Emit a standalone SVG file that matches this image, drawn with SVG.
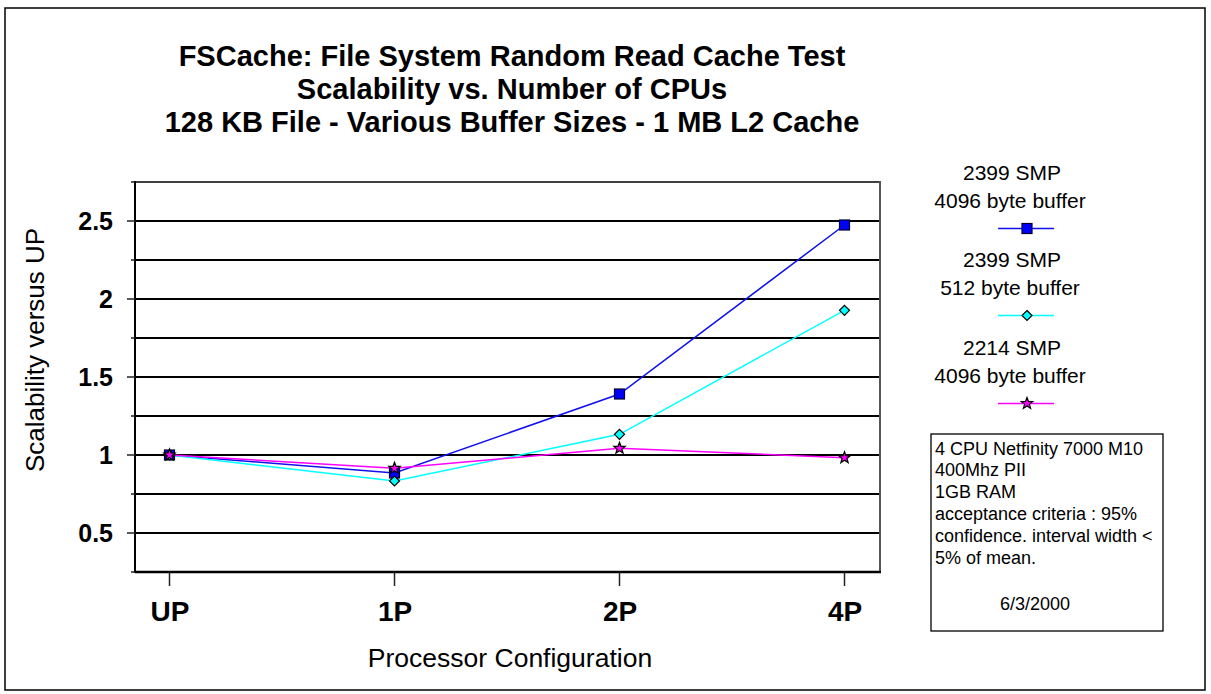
<svg xmlns="http://www.w3.org/2000/svg" width="1211" height="694" viewBox="0 0 1211 694">
<style>
text{font-family:"Liberation Sans",Arial,sans-serif;fill:#000}
.title{font-size:29px;font-weight:bold;text-anchor:middle}
.ylab{font-size:25px;font-weight:bold;text-anchor:end}
.xlab{font-size:28px;font-weight:bold;text-anchor:middle}
.axt{font-size:26px;text-anchor:middle}
.leg{font-size:21px;text-anchor:middle}
.info{font-size:18px}
.grid{stroke:#000;stroke-width:2}
.tick{stroke:#222;stroke-width:1.5}
.s1{fill:none;stroke:#1010f0;stroke-width:1.5}
.s2{fill:none;stroke:#00ffff;stroke-width:1.5}
.s3{fill:none;stroke:#ff00ff;stroke-width:1.5}
</style>
<defs>
<g id="msq"><rect x="-5" y="-5" width="10" height="10" fill="#0000ff" stroke="#000030" stroke-width="1.2"/></g>
<g id="mdi"><polygon points="0,-5 5,0 0,5 -5,0" fill="#00ffff" stroke="#000" stroke-width="1.2"/></g>
<g id="mst"><polygon points="0,-6 1.5,-2 5.7,-1.9 2.4,0.8 3.6,4.9 0,2.5 -3.6,4.9 -2.4,0.8 -5.7,-1.9 -1.5,-2" fill="#ff00ff" stroke="#000" stroke-width="1.2"/></g>
</defs>
<rect width="1211" height="694" fill="#fff"/>
<rect x="5" y="8" width="1200" height="682" fill="none" stroke="#000" stroke-width="1.5"/>
<g id="title">
<text class="title" x="512" y="66">FSCache: File System Random Read Cache Test</text>
<text class="title" x="512" y="99">Scalability vs. Number of CPUs</text>
<text class="title" x="512" y="132">128 KB File - Various Buffer Sizes - 1 MB L2 Cache</text>
</g>
<g id="plot-area">
<rect x="135" y="182" width="745" height="390" fill="#fff" stroke="none"/>
<line class="grid" x1="135" y1="221" x2="880" y2="221"/>
<line class="grid" x1="135" y1="260" x2="880" y2="260"/>
<line class="grid" x1="135" y1="299" x2="880" y2="299"/>
<line class="grid" x1="135" y1="338" x2="880" y2="338"/>
<line class="grid" x1="135" y1="377" x2="880" y2="377"/>
<line class="grid" x1="135" y1="416" x2="880" y2="416"/>
<line class="grid" x1="135" y1="455" x2="880" y2="455"/>
<line class="grid" x1="135" y1="494" x2="880" y2="494"/>
<line class="grid" x1="135" y1="533" x2="880" y2="533"/>
<line x1="135" y1="182" x2="880" y2="182" stroke="#000" stroke-width="1.5"/>
<line x1="880" y1="181" x2="880" y2="573" stroke="#555" stroke-width="2"/>
<line x1="135" y1="572" x2="881" y2="572" stroke="#000" stroke-width="2.5"/>
<line x1="135" y1="181" x2="135" y2="573" stroke="#000" stroke-width="2"/>
</g>
<g id="y-axis">
<line class="tick" x1="127" y1="221" x2="135" y2="221"/>
<line class="tick" x1="131" y1="260" x2="135" y2="260"/>
<line class="tick" x1="127" y1="299" x2="135" y2="299"/>
<line class="tick" x1="131" y1="338" x2="135" y2="338"/>
<line class="tick" x1="127" y1="377" x2="135" y2="377"/>
<line class="tick" x1="131" y1="416" x2="135" y2="416"/>
<line class="tick" x1="127" y1="455" x2="135" y2="455"/>
<line class="tick" x1="131" y1="494" x2="135" y2="494"/>
<line class="tick" x1="127" y1="533" x2="135" y2="533"/>
<line class="tick" x1="131" y1="572" x2="135" y2="572"/>
<line class="tick" x1="131" y1="182" x2="135" y2="182"/>
<text class="ylab" x="113" y="230">2.5</text>
<text class="ylab" x="113" y="308">2</text>
<text class="ylab" x="113" y="386">1.5</text>
<text class="ylab" x="113" y="464">1</text>
<text class="ylab" x="113" y="542">0.5</text>
<text class="axt" transform="translate(44,350) rotate(-90)" font-size="25">Scalability versus UP</text>
</g>
<g id="x-axis">
<line class="tick" x1="169.5" y1="572" x2="169.5" y2="586"/>
<line class="tick" x1="394.5" y1="572" x2="394.5" y2="586"/>
<line class="tick" x1="619.5" y1="572" x2="619.5" y2="586"/>
<line class="tick" x1="844.5" y1="572" x2="844.5" y2="586"/>
<text class="xlab" x="170" y="621">UP</text>
<text class="xlab" x="395" y="621">1P</text>
<text class="xlab" x="620" y="621">2P</text>
<text class="xlab" x="845" y="621">4P</text>
<text class="axt" x="510" y="667" style="font-size:26.5px">Processor Configuration</text>
</g>
<g id="connectors">
<polyline id="series-2399-4096" class="s1" points="169.5,455 394.5,473 619.5,394 844.5,225"/>
<polyline id="series-2399-512" class="s2" points="169.5,455 394.5,481 619.5,434.3 844.5,310.3"/>
<polyline id="series-2214-4096" class="s3" points="169.5,455 394.5,468.3 619.5,448.3 844.5,457.7"/>
</g>
<g id="markers">
<use href="#msq" x="169.5" y="455"/><use href="#msq" x="394.5" y="473"/><use href="#msq" x="619.5" y="394"/><use href="#msq" x="844.5" y="225"/>
<use href="#mdi" x="169.5" y="455"/><use href="#mdi" x="394.5" y="481"/><use href="#mdi" x="619.5" y="434.3"/><use href="#mdi" x="844.5" y="310.3"/>
<use href="#mst" x="169.5" y="455"/><use href="#mst" x="394.5" y="468.3"/><use href="#mst" x="619.5" y="448.3"/><use href="#mst" x="844.5" y="457.7"/>
</g>
<g id="legend">
<text class="leg" x="1012" y="180">2399 SMP</text>
<text class="leg" x="1010" y="208">4096 byte buffer</text>
<line class="s1" x1="998" y1="228.5" x2="1054" y2="228.5"/>
<use href="#msq" x="1027" y="228.5"/>
<text class="leg" x="1012" y="267">2399 SMP</text>
<text class="leg" x="1010" y="295">512 byte buffer</text>
<line class="s2" x1="998" y1="315.5" x2="1054" y2="315.5"/>
<use href="#mdi" x="1027" y="315.5"/>
<text class="leg" x="1012" y="355">2214 SMP</text>
<text class="leg" x="1010" y="383">4096 byte buffer</text>
<line class="s3" x1="998" y1="403.5" x2="1054" y2="403.5"/>
<use href="#mst" x="1027" y="403.5"/>
</g>
<g id="info-box">
<rect x="931" y="434" width="232" height="197" fill="#fff" stroke="#000" stroke-width="1.3"/>
<text class="info" x="935" y="455">4 CPU Netfinity 7000 M10</text>
<text class="info" x="935" y="476">400Mhz PII</text>
<text class="info" x="935" y="498">1GB RAM</text>
<text class="info" x="935" y="520">acceptance criteria : 95%</text>
<text class="info" x="935" y="542">confidence. interval width &lt;</text>
<text class="info" x="935" y="564">5% of mean.</text>
<text class="info" x="1000" y="610">6/3/2000</text>
</g>
</svg>
